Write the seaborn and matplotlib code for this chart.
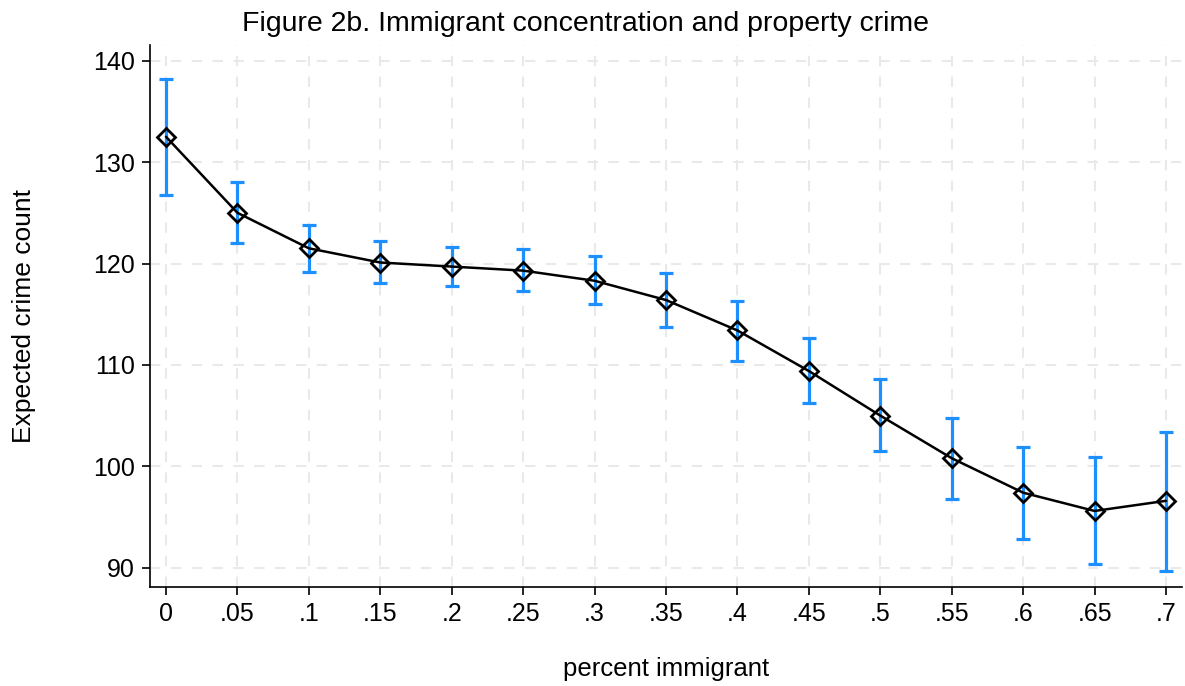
import matplotlib
matplotlib.use("Agg")
import matplotlib.pyplot as plt
import seaborn as sns
import numpy as np
import pandas as pd

# Share of immigrant residents and predicted property crime (with 95% CI)
pct_immigrant = [0.0, 0.05, 0.1, 0.15, 0.2, 0.25, 0.3, 0.35, 0.4, 0.45, 0.5, 0.55, 0.6, 0.65, 0.7]
expected_count = [132.5, 125.0, 121.5, 120.1, 119.7, 119.3, 118.3, 116.4, 113.4, 109.4, 105.0, 100.8, 97.4, 95.6, 96.6]
ci_upper = [138.2, 128.0, 123.8, 122.2, 121.6, 121.4, 120.7, 119.1, 116.3, 112.7, 108.6, 104.8, 101.9, 100.9, 103.4]
ci_lower = [126.8, 122.0, 119.2, 118.1, 117.8, 117.3, 116.0, 113.7, 110.4, 106.2, 101.5, 96.8, 92.8, 90.4, 89.7]

x_tick_labels = ["0", ".05", ".1", ".15", ".2", ".25", ".3", ".35", ".4", ".45", ".5", ".55", ".6", ".65", ".7"]
y_ticks = [90, 100, 110, 120, 130, 140]

df = pd.DataFrame({"pct": pct_immigrant, "count": expected_count,
                   "hi": ci_upper, "lo": ci_lower})

sns.set_theme(style="white")
plt.rcParams["font.family"] = ["Liberation Sans", "DejaVu Sans"]
plt.rcParams["text.color"] = "black"
plt.rcParams["axes.labelcolor"] = "black"

fig = plt.figure(figsize=(11.85, 6.86), dpi=100)
ax = fig.add_axes([0.1266, 0.1443, 0.8709, 0.7901])

# confidence intervals
yerr = np.vstack([df["count"] - df["lo"], df["hi"] - df["count"]])
ax.errorbar(df["pct"], df["count"], yerr=yerr, fmt="none", ecolor="#1E8FFF",
            elinewidth=2.3, capsize=5, capthick=2.3, zorder=2)

# point estimates
sns.lineplot(data=df, x="pct", y="count", ax=ax, color="black", linewidth=1.8,
             marker="D", markersize=9, markerfacecolor="none",
             markeredgecolor="black", markeredgewidth=2.0, zorder=3)

ax.set_xlim(-0.0112, 0.7112)
ax.set_ylim(88.1, 141.55)
ax.set_xticks(pct_immigrant)
ax.set_xticklabels(x_tick_labels)
ax.set_yticks(y_ticks)
ax.set_yticklabels([str(v) for v in y_ticks])

ax.grid(True, which="major", linestyle=(0, (5, 5)), color="#e9e9e9", linewidth=1.5)
ax.set_axisbelow(True)

for side in ["top", "right"]:
    ax.spines[side].set_visible(False)
for side in ["left", "bottom"]:
    ax.spines[side].set_color("black")
    ax.spines[side].set_linewidth(1.2)

ax.tick_params(axis="both", which="major", direction="out", length=6, width=1.2,
               color="black", labelsize=18, labelcolor="black", pad=5,
               bottom=True, left=True)

ax.set_xlabel("percent immigrant", fontsize=18.5, labelpad=22)
ax.set_ylabel("Expected crime count", fontsize=19, labelpad=41)

fig.suptitle("Figure 2b. Immigrant concentration and property crime",
             fontsize=20.5, x=0.494, y=0.984, va="top")

fig.savefig("out.png", dpi=100, facecolor="white")
